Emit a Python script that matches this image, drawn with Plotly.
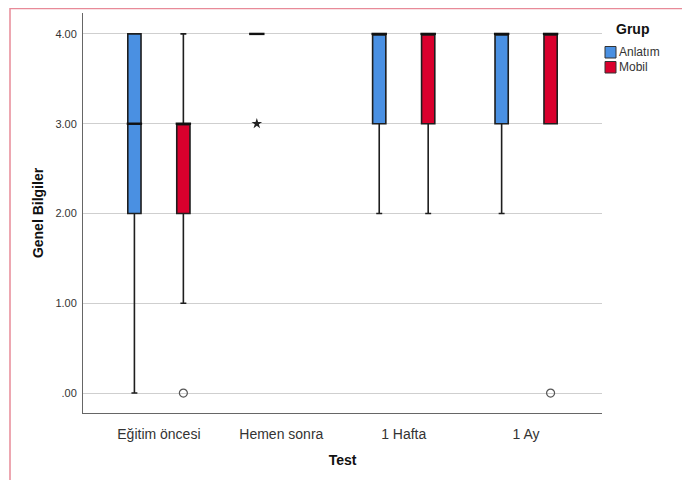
import plotly.graph_objects as go

categories = ["Eğitim öncesi", "Hemen sonra", "1 Hafta", "1 Ay"]

# Anlatım group (precomputed box stats)
anl_x = ["Eğitim öncesi", "Hemen sonra", "1 Hafta", "1 Ay"]
anl_q1 = [2, 4, 3, 3]
anl_med = [3, 4, 4, 4]
anl_q3 = [4, 4, 4, 4]
anl_low = [0, 4, 2, 2]
anl_up = [4, 4, 4, 4]
anl_out_x = ["Hemen sonra"]
anl_out_y = [3]

# Mobil group
mob_x = ["Eğitim öncesi", "1 Hafta", "1 Ay"]
mob_q1 = [2, 3, 3]
mob_med = [3, 4, 4]
mob_q3 = [3, 4, 4]
mob_low = [1, 2, 3]
mob_up = [4, 4, 4]
mob_out_x = ["Eğitim öncesi", "1 Ay"]
mob_out_y = [0, 0]

ytick_vals = [0, 1, 2, 3, 4]
ytick_text = [".00", "1.00", "2.00", "3.00", "4.00"]

group_names = ["Anlatım", "Mobil"]
BLUE = "#4a90e2"
RED = "#d9002d"
group_colors = [BLUE, RED]
LINE = "#1e1e1e"

fig = go.Figure()
fig.add_trace(go.Box(
    name=group_names[0], x=anl_x, q1=anl_q1, median=anl_med, q3=anl_q3,
    lowerfence=anl_low, upperfence=anl_up, fillcolor=BLUE,
    line=dict(color=LINE, width=1.6), whiskerwidth=0.45, boxpoints=False,
    offsetgroup="a", hoverinfo="skip", showlegend=False))
fig.add_trace(go.Box(
    name=group_names[1], x=mob_x, q1=mob_q1, median=mob_med, q3=mob_q3,
    lowerfence=mob_low, upperfence=mob_up, fillcolor=RED,
    line=dict(color=LINE, width=1.6), whiskerwidth=0.45, boxpoints=False,
    offsetgroup="b", hoverinfo="skip", showlegend=False))
# thicker median lines (SPSS style)
fig.add_trace(go.Scatter(
    x=anl_x, y=anl_med, mode="markers", offsetgroup="a", hoverinfo="skip",
    marker=dict(symbol="line-ew", size=11, line=dict(width=2.4, color="#111")),
    showlegend=False))
fig.add_trace(go.Scatter(
    x=mob_x, y=mob_med, mode="markers", offsetgroup="b", hoverinfo="skip",
    marker=dict(symbol="line-ew", size=11, line=dict(width=2.4, color="#111")),
    showlegend=False))
fig.add_trace(go.Scatter(
    x=anl_out_x, y=anl_out_y, mode="markers", offsetgroup="a",
    marker=dict(symbol="star", size=8, color="#222"), showlegend=False))
fig.add_trace(go.Scatter(
    x=mob_out_x, y=mob_out_y, mode="markers", offsetgroup="b",
    marker=dict(symbol="circle-open", size=8, color="#555", line=dict(width=1.2)),
    showlegend=False))

# figure is placed 8px from the page edge by the page's body margin
W, H = 682, 472
L, R, T, B = 75, 88, 5, 67
pw, ph = W - L - R, H - T - B

def px_x(p):
    return (p - L) / pw

def px_y(p):
    return 1 - (p - T) / ph

shapes = [dict(type="rect", xref="paper", yref="paper",
               x0=px_x(2), x1=px_x(678), y0=px_y(490), y1=px_y(0.5),
               line=dict(color="#e88a98", width=1.5), fillcolor="rgba(0,0,0,0)",
               layer="below")]
annotations = [dict(text="<b>Grup</b>", xref="paper", yref="paper",
                    x=px_x(606), y=px_y(21), xanchor="left", yanchor="middle",
                    showarrow=False, font=dict(size=14, color="#111"))]
for i, (nm, col) in enumerate(zip(group_names, group_colors)):
    yc = 44 + 15 * i
    shapes.append(dict(type="rect", xref="paper", yref="paper",
                       x0=px_x(597), x1=px_x(608), y0=px_y(yc + 6), y1=px_y(yc - 5.5),
                       fillcolor=col, line=dict(color="#333", width=1)))
    annotations.append(dict(text=nm, xref="paper", yref="paper",
                            x=px_x(609), y=px_y(yc), xanchor="left", yanchor="middle",
                            showarrow=False, font=dict(size=12, color="#333")))

fig.update_layout(
    width=W, height=H,
    margin=dict(l=L, r=R, t=T, b=B, autoexpand=False),
    paper_bgcolor="white", plot_bgcolor="white",
    boxmode="group", boxgap=0.2, boxgroupgap=0.73,
    scattermode="group", scattergap=0.2,
    font=dict(family="Liberation Sans, Arial, sans-serif", size=12, color="#333"),
    showlegend=False,
    shapes=shapes, annotations=annotations,
)
fig.update_xaxes(
    type="category", categoryorder="array", categoryarray=categories,
    range=[-0.62, 3.62], showline=True, linecolor="#666", linewidth=1,
    showgrid=False, ticks="outside", ticklen=8, tickcolor="rgba(0,0,0,0)",
    tickfont=dict(size=14, color="#333"), automargin=False,
    title=dict(text="<b>Test</b>", font=dict(size=14, color="#111"), standoff=14))
fig.update_yaxes(
    range=[-0.222, 4.233], tickvals=ytick_vals, ticktext=ytick_text,
    showline=True, linecolor="#666", linewidth=1,
    showgrid=True, gridcolor="#cfcfcf", gridwidth=1, zeroline=False,
    ticks="outside", ticklen=3, tickcolor="rgba(0,0,0,0)",
    tickfont=dict(size=11, color="#333"), automargin=False,
    title=dict(text="<b>Genel Bilgiler</b>", font=dict(size=14, color="#111"), standoff=8))

fig.write_html("out.html")
